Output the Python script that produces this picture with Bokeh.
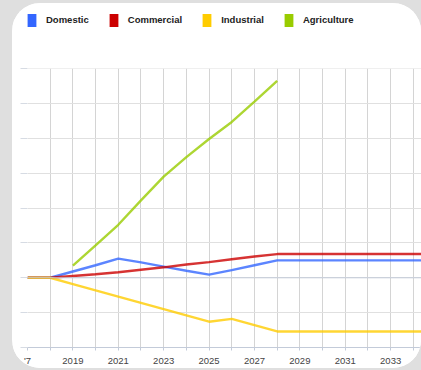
from bokeh.plotting import figure
from bokeh.layouts import column
from bokeh.models import (Legend, LegendItem, FixedTicker, Span, Range1d,
                          GlobalInlineStyleSheet)
from bokeh.embed import file_html
from bokeh.resources import INLINE

# ---- data ----
years = list(range(2017, 2036))
domestic = [0, 0, 1.8, 3.6, 5.5, 4.4, 3.2, 2.0, 0.9, 2.2, 3.6, 5.0,
            5.0, 5.0, 5.0, 5.0, 5.0, 5.0, 5.0]
commercial = [0, 0, 0.5, 1.0, 1.6, 2.3, 3.0, 3.8, 4.5, 5.3, 6.1, 6.8,
              6.8, 6.8, 6.8, 6.8, 6.8, 6.8, 6.8]
industrial = [0, 0, -1.8, -3.6, -5.4, -7.2, -9.0, -10.8, -12.6, -11.8, -13.6, -15.4,
              -15.4, -15.4, -15.4, -15.4, -15.4, -15.4, -15.4]
agri_years = list(range(2019, 2029))
agriculture = [3.5, 9.3, 15.2, 22.2, 29.0, 34.6, 39.8, 44.7, 50.5, 56.5]

series_names = ["Domestic", "Commercial", "Industrial", "Agriculture"]
series_colors = ["#3366ff", "#cc0000", "#ffcc00", "#99cc00"]

x_ticks = list(range(2017, 2035))
x_tick_labels = {2017: "'7", 2019: "2019", 2021: "2021", 2023: "2023", 2025: "2025",
                 2027: "2027", 2029: "2029", 2031: "2031", 2033: "2033"}
y_ticks = [-20, -10, 0, 10, 20, 30, 40, 50, 60]

NAN = float("nan")

# ---- legend strip (top of the card) ----
lf = figure(width=409, height=65, output_backend="svg", toolbar_location=None,
            x_range=Range1d(0, 1), y_range=Range1d(0, 1),
            x_axis_type=None, y_axis_type=None,
            min_border_left=0, min_border_right=0, min_border_top=0, min_border_bottom=0)
lf.grid.visible = False
lf.outline_line_color = None
lf.border_fill_color = "white"
lf.background_fill_color = "white"

items = []
for name, col in zip(series_names, series_colors):
    # colour key only: a single undefined (NaN) row so nothing is drawn in the strip
    r = lf.quad(left=[NAN], right=[NAN], top=[NAN], bottom=[NAN],
                fill_color=col, line_color=None)
    items.append(LegendItem(label=name, renderers=[r], index=0))

legend = Legend(items=items, location=(-1, 40.5), orientation="horizontal",
                glyph_width=11, glyph_height=16, label_height=16, label_standoff=9,
                spacing=19, padding=0, margin=0,
                label_text_font="Liberation Sans", label_text_font_style="bold",
                label_text_font_size="9.5px", label_text_color="#222222",
                border_line_color=None, background_fill_alpha=0)
lf.add_layout(legend)

# ---- main chart ----
p = figure(width=409, height=300, output_backend="svg", toolbar_location=None,
           x_range=Range1d(2017, 2034.36), y_range=Range1d(-20, 60.03),
           min_border_left=15, min_border_right=0, min_border_top=0,
           min_border_bottom=20)
p.border_fill_color = "white"
p.background_fill_color = "white"
p.outline_line_color = None

p.xgrid.ticker = FixedTicker(ticks=x_ticks)
p.ygrid.ticker = FixedTicker(ticks=y_ticks)
p.xgrid.grid_line_color = "#d4d4d4"
p.ygrid.grid_line_color = "#e0e0e0"

xa = p.xaxis[0]
xa.ticker = FixedTicker(ticks=x_ticks)
xa.major_label_overrides = {t: x_tick_labels.get(t, "") for t in x_ticks}
xa.axis_line_color = "#c3cbd9"
xa.major_tick_line_color = "#c3cbd9"
xa.major_tick_out = 3
xa.major_tick_in = 0
xa.minor_tick_line_color = None
xa.major_label_standoff = 4
xa.major_label_text_font = "Liberation Sans"
xa.major_label_text_font_size = "9.5px"
xa.major_label_text_color = "#444444"

ya = p.yaxis[0]
ya.ticker = FixedTicker(ticks=y_ticks)
ya.major_label_overrides = {t: "" for t in y_ticks}
ya.axis_line_color = None
ya.major_tick_out = 7
ya.major_tick_in = 0
ya.major_tick_line_color = "#d6dbe3"
ya.minor_tick_line_color = None
ya.major_label_standoff = 0

p.add_layout(Span(location=0, dimension="width", line_color="#c3cbd9", line_width=1))

p.line(years, domestic, line_color=series_colors[0], line_width=2.4, line_alpha=0.8)
p.line(years, commercial, line_color=series_colors[1], line_width=2.4, line_alpha=0.8)
p.line(years, industrial, line_color=series_colors[2], line_width=2.4, line_alpha=0.8)
p.line(agri_years, agriculture, line_color=series_colors[3], line_width=2.4, line_alpha=0.8)

card = column(lf, p, spacing=0)
card.margin = (3, 0, 0, 12)
card.styles = {"border-radius": "28px", "overflow": "hidden", "background": "white"}
card.stylesheets = [GlobalInlineStyleSheet(
    css="html, body { background: #dfdfdf !important; overflow: hidden; }")]

open("out.html", "w").write(file_html(card, INLINE))
